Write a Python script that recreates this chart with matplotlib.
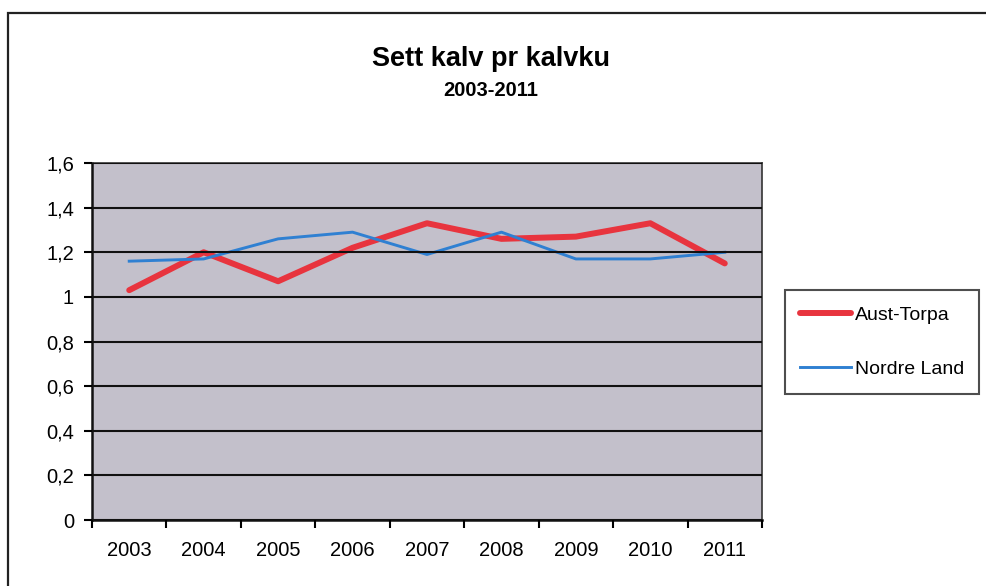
import matplotlib
matplotlib.use("Agg")
import matplotlib.pyplot as plt
from matplotlib.patches import Rectangle

years = ["2003", "2004", "2005", "2006", "2007", "2008", "2009", "2010", "2011"]
aust_torpa = [1.03, 1.20, 1.07, 1.22, 1.33, 1.26, 1.27, 1.33, 1.15]
nordre_land = [1.16, 1.17, 1.26, 1.29, 1.19, 1.29, 1.17, 1.17, 1.20]
y_ticks = [0, 0.2, 0.4, 0.6, 0.8, 1.0, 1.2, 1.4, 1.6]
y_labels = ["0", "0,2", "0,4", "0,6", "0,8", "1", "1,2", "1,4", "1,6"]

plt.rcParams['font.family'] = ['Liberation Sans', 'DejaVu Sans']

W, H = 986, 586
fig = plt.figure(figsize=(W / 100, H / 100), dpi=100)
fig.patch.set_facecolor("white")

# outer chart border
fig.patches.append(Rectangle((8 / W, -0.05), 1.1, 1 - 13 / H + 0.05, transform=fig.transFigure,
                             fill=False, edgecolor="#222222", linewidth=1.6, clip_on=False))

left, right, top, bottom = 92, 762, 163, 520
ax = fig.add_axes([left / W, 1 - bottom / H, (right - left) / W, (bottom - top) / H])
ax.set_facecolor("#c3c0cb")

x = list(range(len(years)))
ax.plot(x, aust_torpa, color="#e8343e", linewidth=4.3, label="Aust-Torpa", solid_capstyle="round")
ax.plot(x, nordre_land, color="#2f80d2", linewidth=2.1, label="Nordre Land")

ax.set_xlim(-0.5, len(years) - 0.5)
ax.set_ylim(0, 1.6)
ax.set_yticks(y_ticks)
ax.set_yticklabels(y_labels, fontsize=14.5)
ax.yaxis.grid(True, color="#111111", linewidth=1.5)
ax.set_axisbelow(False)
ax.set_xticks([i - 0.5 for i in range(len(years) + 1)])
ax.set_xticklabels([])
ax.set_xticks(x, minor=True)
ax.set_xticklabels(years, minor=True, fontsize=14.5)
ax.tick_params(axis="x", which="minor", length=0, pad=15)
ax.tick_params(axis="x", which="major", length=6, width=1.5, direction="out")
ax.tick_params(axis="y", length=6, width=1.5, direction="out", pad=7)
for s in ["left", "bottom"]:
    ax.spines[s].set_linewidth(1.8)
    ax.spines[s].set_color("#111111")
for s in ["top", "right"]:
    ax.spines[s].set_linewidth(1.2)
    ax.spines[s].set_color("#333333")

fig.text(491 / W, 1 - 59 / H, "Sett kalv pr kalvku", ha="center", va="center",
         fontsize=19.5, fontweight="bold")
fig.text(491 / W, 1 - 91 / H, "2003-2011", ha="center", va="center",
         fontsize=14.5, fontweight="bold")

leg = fig.legend(loc="center", bbox_to_anchor=(882 / W, 1 - 342 / H), fontsize=14,
                 frameon=True, fancybox=False, edgecolor="#222222", handlelength=2.6,
                 handletextpad=0.2, labelspacing=1.9, borderpad=0.8)
leg.get_frame().set_linewidth(1.5)

fig.savefig("out.png", dpi=100)
